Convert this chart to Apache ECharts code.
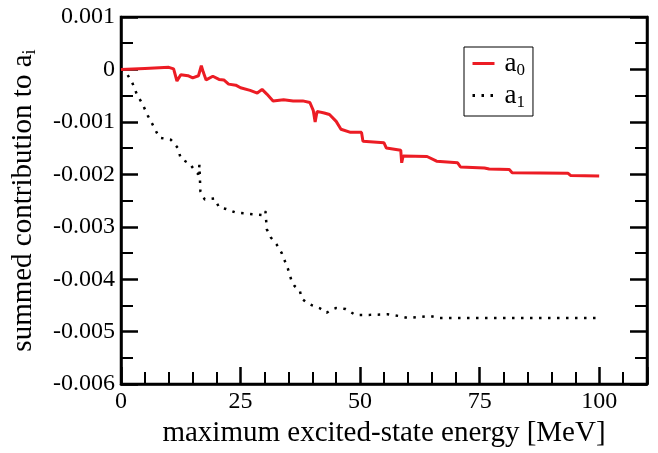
<!DOCTYPE html>
<html>
<head>
<meta charset="utf-8">
<script src="https://cdn.jsdelivr.net/npm/echarts@6/dist/echarts.min.js"></script>
<style>
  html, body { margin: 0; padding: 0; background: #fff; }
  #chart { width: 658px; height: 453px; }
</style>
</head>
<body>
<div id="chart"></div>
<script>
// a0: summed contribution vs max excited-state energy (MeV)
const a0X = [0, 5, 10, 11, 11.7, 12.5, 14, 15, 16.2, 16.8, 17.2, 17.8, 19.2, 20.5, 21.5, 22.5, 24, 25, 27, 28.5, 29.5, 30.5,
  31.8, 34, 36, 38, 39.5, 40.2, 40.6, 41, 42.5, 43.6, 45, 46, 48, 50.3, 50.6, 55, 55.5, 58.5, 58.7, 59, 64, 66, 70.4, 71,
  76, 77, 81.2, 81.8, 93.5, 94, 100];
const a0Y = [0, 0.00002, 0.00004, 0.00001, -0.00022, -0.0001, -0.00012, -0.00016, -0.00012, 0.00007, -0.00005, -0.0002,
  -0.00013, -0.00019, -0.0002, -0.00028, -0.0003, -0.00035, -0.0004, -0.00045, -0.00038, -0.00047, -0.0006, -0.00058,
  -0.0006, -0.0006, -0.00063, -0.00078, -0.001, -0.0008, -0.00083, -0.00086, -0.00099, -0.00114, -0.0012, -0.0012,
  -0.00137, -0.0014, -0.0015, -0.00154, -0.00178, -0.00165, -0.00166, -0.00175, -0.00178, -0.00186, -0.00188, -0.0019,
  -0.00191, -0.00197, -0.00198, -0.00202, -0.00203];

// a1
const a1X = [0, 1, 2.3, 3.3, 4.5, 5.6, 6.9, 8, 10.4, 11, 11.9, 12.5, 14.4, 15.5, 16.2, 16.4, 16.6, 17.5, 19.6, 20.5, 22,
  24, 27.5, 29.8, 30.2, 30.5, 31.3, 32.5, 33.6, 34.2, 34.9, 35.7, 36.3, 37.4, 37.8, 38.8, 40, 41.5, 43, 44, 45, 47, 49,
  52, 55.7, 58, 60, 62.4, 64.5, 66.6, 80, 100];
const a1Y = [0, -0.00005, -0.00024, -0.00047, -0.00066, -0.00088, -0.0011, -0.0013, -0.00134, -0.0014, -0.0015, -0.0017,
  -0.0018, -0.00194, -0.002, -0.00182, -0.00232, -0.00248, -0.00246, -0.00263, -0.00266, -0.00273, -0.00276, -0.00278,
  -0.0027, -0.00305, -0.0032, -0.00333, -0.0035, -0.00364, -0.0038, -0.00404, -0.00413, -0.00422, -0.00437, -0.00444,
  -0.0045, -0.00455, -0.00464, -0.00458, -0.00455, -0.00457, -0.00468, -0.00468, -0.00467, -0.0047, -0.00474, -0.00472,
  -0.0047, -0.00474, -0.00474, -0.00474];

const seriesNames = ['a0', 'a1'];

const font = "'Liberation Serif', 'Times New Roman', 'DejaVu Serif', serif";
const pairs = (xs, ys) => xs.map((x, i) => [x, ys[i]]);

const chart = echarts.init(document.getElementById('chart'));

const yLabel = v => {
  const r = Math.round(v * 1000) / 1000;
  return r === 0 ? '0' : r.toFixed(3);
};

const tickStyle = { inside: true, length: 17, lineStyle: { color: '#000', width: 2.5 } };
const minorStyle = { show: true, length: 12, lineStyle: { color: '#000', width: 2 } };

chart.setOption({
  animation: false,
  textStyle: { fontFamily: font },
  grid: { left: 121, right: 11, top: 17, bottom: 55, show: true, borderColor: '#000', borderWidth: 2.5 },
  legend: {
    left: 464, top: 47,
    orient: 'vertical',
    data: seriesNames,
    borderColor: '#000', borderWidth: 1,
    padding: [3, 8, 5, 7],
    itemGap: 3,
    itemWidth: 22, itemHeight: 14,
    itemStyle: { opacity: 0 },
    lineStyle: { width: 3 },
    formatter: n => '{a|a}{s|' + n.slice(1) + '}',
    textStyle: {
      color: '#000',
      fontFamily: font,
      rich: {
        a: { fontFamily: font, fontSize: 27, color: '#000', padding: [0, 0, 0, 5] },
        s: { fontFamily: font, fontSize: 17, color: '#000', padding: [14, 0, 0, 0] }
      }
    }
  },
  xAxis: [{
    type: 'value', min: 0, max: 110, interval: 25,
    name: 'maximum excited-state energy [MeV]',
    nameLocation: 'middle', nameGap: 28,
    nameTextStyle: { fontFamily: font, fontSize: 29, color: '#000' },
    axisLine: { show: true, onZero: false, lineStyle: { color: '#000', width: 2.5 } },
    axisTick: tickStyle,
    minorTick: Object.assign({ splitNumber: 5 }, minorStyle),
    axisLabel: { fontFamily: font, fontSize: 24, color: '#000', margin: 6, showMaxLabel: false },
    splitLine: { show: false }
  }],
  yAxis: [{
    type: 'value', min: -0.006, max: 0.001, interval: 0.001,
    name: 'summed contribution to {a|a}{s|i}',
    nameLocation: 'middle', nameGap: 82, nameRotate: 90,
    nameTextStyle: {
      fontFamily: font, fontSize: 29, color: '#000',
      rich: {
        a: { fontFamily: font, fontSize: 29, color: '#000' },
        s: { fontFamily: font, fontSize: 18, color: '#000', padding: [14, 0, 0, 0] }
      }
    },
    axisLine: { show: true, onZero: false, lineStyle: { color: '#000', width: 2.5 } },
    axisTick: tickStyle,
    minorTick: Object.assign({ splitNumber: 2 }, minorStyle),
    axisLabel: { fontFamily: font, fontSize: 24, color: '#000', margin: 6, formatter: yLabel },
    splitLine: { show: false }
  }, {
    type: 'value', min: -0.006, max: 0.001, interval: 0.001, position: 'right',
    axisLine: { show: true, onZero: false, lineStyle: { color: '#000', width: 2.5 } },
    axisTick: tickStyle,
    minorTick: Object.assign({ splitNumber: 2 }, minorStyle),
    axisLabel: { show: false },
    splitLine: { show: false }
  }],
  series: [{
    name: 'a0', type: 'line', symbol: 'none',
    data: pairs(a0X, a0Y),
    color: '#ec1c24',
    lineStyle: { color: '#ec1c24', width: 3 },
    z: 3
  }, {
    name: 'a1', type: 'line', symbol: 'none',
    data: pairs(a1X, a1Y),
    color: '#000',
    lineStyle: { color: '#000', width: 2.5, type: [2.5, 6.5], cap: 'butt' },
    z: 2
  }]
});
</script>
</body>
</html>
